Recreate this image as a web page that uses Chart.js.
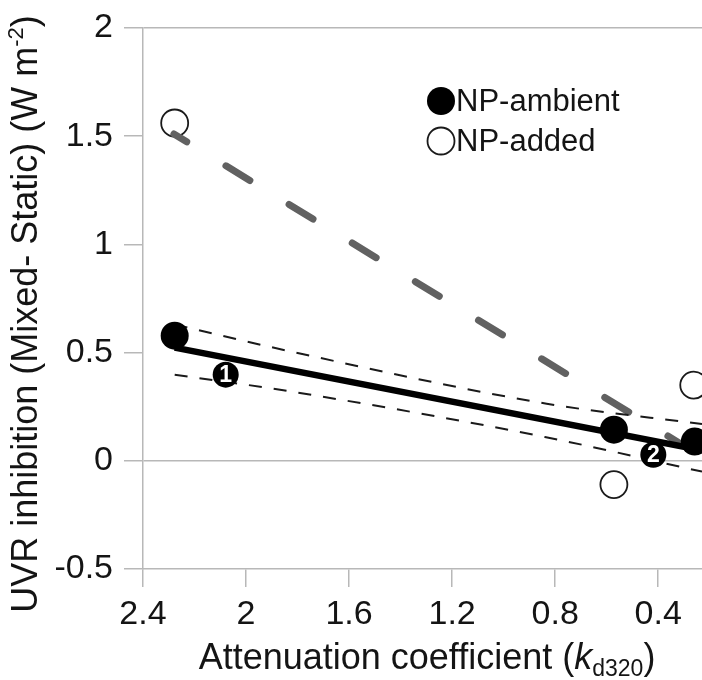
<!DOCTYPE html>
<html>
<head>
<meta charset="utf-8">
<script src="https://cdn.jsdelivr.net/npm/chart.js@4.4.1/dist/chart.umd.min.js"></script>
<style>
  html, body { margin: 0; padding: 0; background: #fff; }
  #wrap { width: 702px; height: 680px; }
</style>
</head>
<body>
<div id="wrap"><canvas id="c" width="702" height="680"></canvas></div>
<script>
// Measured UVR inhibition (mixed minus static) vs. attenuation coefficient kd320
const ambientKd  = [2.277, 0.572, 0.258];
const ambientUvr = [0.578, 0.144, 0.089];
const addedKd    = [2.277, 0.572, 0.262];
const addedUvr   = [1.561, -0.110, 0.350];

// Regression lines
const ambientFitKd  = [2.277, 0.23];
const ambientFitUvr = [0.523, 0.048];
const addedFitKd    = [2.280, 0.26];
const addedFitUvr   = [1.510, 0.040];

// Confidence band around the NP-ambient fit
const upperBandKd  = [2.277, 1.830, 0.833, 0.23];
const upperBandUvr = [0.630, 0.506, 0.264, 0.170];
const lowerBandKd  = [2.277, 1.830, 0.840, 0.23];
const lowerBandUvr = [0.398, 0.321, 0.110, -0.050];

// Numbered site markers
const siteKd     = [2.079, 0.419];
const siteUvr    = [0.398, 0.028];
const siteLabels = ['1', '2'];

// Axis ticks
const xTicks = [2.4, 2, 1.6, 1.2, 0.8, 0.4];
const yTicks = [-0.5, 0, 0.5, 1, 1.5, 2];
const legendLabels = ['NP-ambient', 'NP-added'];

const FONT = '"Liberation Sans", Arial, Helvetica, sans-serif';
const AXIS = '#b8b8b8';
const INK = '#141414';

const pts = (xs, ys) => xs.map((x, i) => ({ x: x, y: ys[i] }));

Chart.defaults.font.family = FONT;
Chart.defaults.color = INK;

// Rich-text helper for axis titles (italic / sub / superscript runs)
function drawRich(ctx, runs, size, cx, baseY) {
  const fontFor = r => (r.italic ? 'italic ' : '') + Math.round(size * (r.scale || 1)) + 'px ' + FONT;
  let total = 0;
  runs.forEach(r => { ctx.font = fontFor(r); total += ctx.measureText(r.text).width; });
  let x = cx - total / 2;
  ctx.textAlign = 'left';
  ctx.textBaseline = 'alphabetic';
  runs.forEach(r => {
    ctx.font = fontFor(r);
    ctx.fillText(r.text, x, baseY + (r.dy || 0) * size);
    x += ctx.measureText(r.text).width;
  });
}

const decorations = {
  id: 'decorations',
  afterDatasetsDraw(chart) {
    const ctx = chart.ctx;
    // numbers inside the site markers
    const idx = chart.data.datasets.findIndex(d => d.siteMarkers);
    if (idx >= 0) {
      const meta = chart.getDatasetMeta(idx);
      ctx.save();
      ctx.fillStyle = '#ffffff';
      ctx.font = 'bold 23px ' + FONT;
      ctx.textAlign = 'center';
      ctx.textBaseline = 'middle';
      meta.data.forEach((el, i) => ctx.fillText(siteLabels[i], el.x, el.y + 1));
      ctx.restore();
    }
  },
  afterDraw(chart) {
    const ctx = chart.ctx;
    ctx.save();
    ctx.fillStyle = INK;
    // x-axis title
    drawRich(ctx, [
      { text: 'Attenuation coefficient (' },
      { text: 'k', italic: true },
      { text: 'd320', scale: 0.64, dy: 0.2 },
      { text: ')' }
    ], 36, 427, 669);
    // y-axis title
    ctx.save();
    ctx.translate(37, 314);
    ctx.rotate(-Math.PI / 2);
    drawRich(ctx, [
      { text: 'UVR inhibition (Mixed- Static) (W m' },
      { text: '-2', scale: 0.62, dy: -0.4 },
      { text: ')' }
    ], 36, 0, 0);
    ctx.restore();

    // legend
    const rows = [101, 141];
    legendLabels.forEach((lab, i) => {
      const ds = chart.data.datasets.find(d => d.label === lab);
      const y = rows[i];
      ctx.beginPath();
      ctx.arc(441, y, ds.pointRadius, 0, Math.PI * 2);
      ctx.fillStyle = ds.pointBackgroundColor;
      ctx.fill();
      if (ds.pointBorderWidth > 0) {
        ctx.lineWidth = ds.pointBorderWidth;
        ctx.strokeStyle = ds.pointBorderColor;
        ctx.stroke();
      }
      ctx.fillStyle = INK;
      ctx.font = '31px ' + FONT;
      ctx.textAlign = 'left';
      ctx.textBaseline = 'middle';
      ctx.fillText(lab, 456, y + 1);
    });
    ctx.restore();
  }
};

new Chart(document.getElementById('c'), {
  type: 'scatter',
  data: {
    datasets: [
      {
        label: 'NP-added',
        data: pts(addedKd, addedUvr),
        pointRadius: 13.5,
        pointBackgroundColor: 'rgba(255,255,255,0)',
        pointBorderColor: '#1a1a1a',
        pointBorderWidth: 1.8,
        clip: false,
        order: 6
      },
      {
        label: 'NP-added fit',
        data: pts(addedFitKd, addedFitUvr),
        showLine: true,
        pointRadius: 0,
        borderColor: '#616161',
        borderWidth: 7,
        borderDash: [28, 46],
        borderDashOffset: 13,
        borderCapStyle: 'round',
        order: 5
      },
      {
        label: 'upper band',
        data: pts(upperBandKd, upperBandUvr),
        showLine: true,
        pointRadius: 0,
        borderColor: '#1a1a1a',
        borderWidth: 2,
        borderDash: [13, 12],
        cubicInterpolationMode: 'monotone',
        order: 4
      },
      {
        label: 'lower band',
        data: pts(lowerBandKd, lowerBandUvr),
        showLine: true,
        pointRadius: 0,
        borderColor: '#1a1a1a',
        borderWidth: 2,
        borderDash: [13, 12],
        cubicInterpolationMode: 'monotone',
        order: 4
      },
      {
        label: 'NP-ambient fit',
        data: pts(ambientFitKd, ambientFitUvr),
        showLine: true,
        pointRadius: 0,
        borderColor: '#000000',
        borderWidth: 6.5,
        order: 3
      },
      {
        label: 'NP-ambient',
        data: pts(ambientKd, ambientUvr),
        pointRadius: 14,
        pointBackgroundColor: '#000000',
        pointBorderColor: '#000000',
        pointBorderWidth: 0,
        clip: false,
        order: 2
      },
      {
        label: 'sites',
        siteMarkers: true,
        data: pts(siteKd, siteUvr),
        pointRadius: 13,
        pointBackgroundColor: '#000000',
        pointBorderWidth: 0,
        clip: false,
        order: 1
      }
    ]
  },
  options: {
    responsive: false,
    animation: false,
    events: [],
    layout: { autoPadding: false, padding: { top: 28, right: 0, left: 0, bottom: 0 } },
    plugins: { legend: { display: false }, tooltip: { enabled: false } },
    scales: {
      x: {
        type: 'linear',
        reverse: true,
        min: 0.23,
        max: 2.4,
        afterBuildTicks: s => { s.ticks = xTicks.map(v => ({ value: v })); },
        afterFit: s => { s.height = 111; s.paddingLeft = 0; s.paddingRight = 0; },
        ticks: {
          autoSkip: false, maxRotation: 0, minRotation: 0,
          padding: 7,
          font: { size: 34 },
          color: INK,
          callback: v => String(v)
        },
        grid: {
          drawOnChartArea: false,
          color: AXIS,
          tickColor: AXIS,
          tickLength: 18,
          lineWidth: 1.5
        },
        border: { display: true, color: AXIS, width: 1.5 }
      },
      y: {
        type: 'linear',
        min: -0.5,
        max: 2,
        afterBuildTicks: s => { s.ticks = yTicks.map(v => ({ value: v })); },
        afterFit: s => { s.width = 143; s.paddingTop = 0; s.paddingBottom = 0; },
        ticks: {
          padding: 11,
          font: { size: 34 },
          color: INK,
          callback: v => String(v)
        },
        grid: {
          drawOnChartArea: true,
          color: c => (c.tick && (c.tick.value === 0 || c.tick.value === 2)) ? AXIS : 'rgba(0,0,0,0)',
          tickColor: AXIS,
          tickLength: 19,
          lineWidth: 1.5
        },
        border: { display: true, color: AXIS, width: 1.5 }
      }
    }
  },
  plugins: [decorations]
});
</script>
</body>
</html>
